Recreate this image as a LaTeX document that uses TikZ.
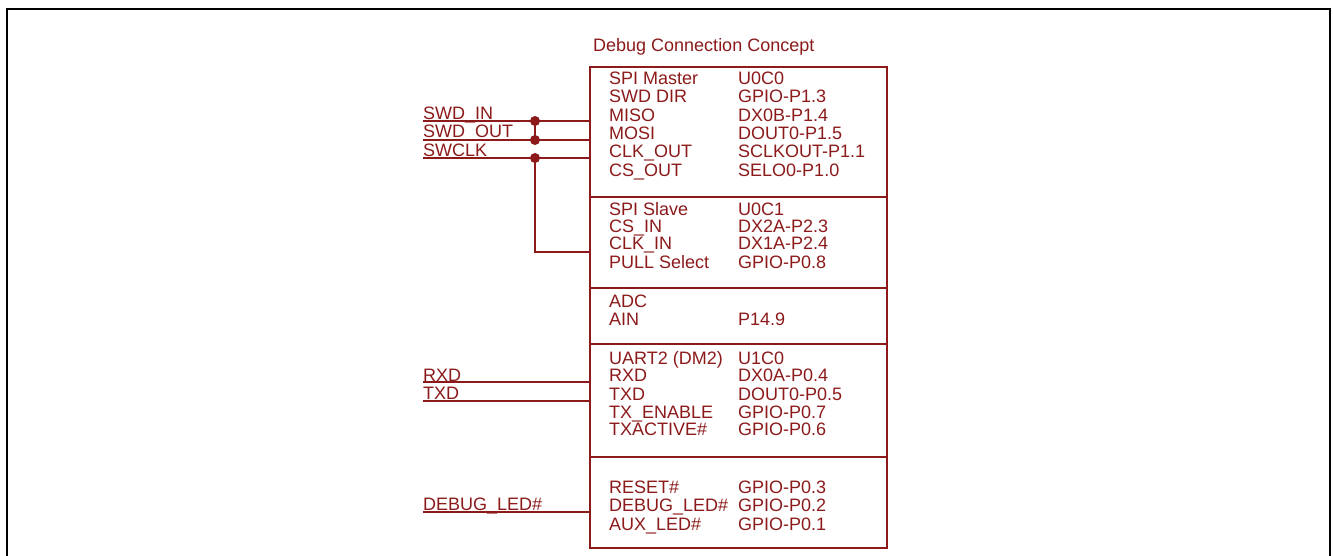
\documentclass[tikz,border=0pt]{standalone}
\usepackage{fontspec}
\setmainfont{Liberation Sans}
\usetikzlibrary{positioning}

\definecolor{schred}{RGB}{140,26,26}

\begin{document}
\begin{tikzpicture}[x=1pt, y=-1pt,
  every node/.style={font=\fontsize{18}{21}\selectfont, text=schred, inner sep=0pt},
  txt/.style={anchor=base west},
  wire/.style={draw=schred, line width=2pt},
  section/.style={draw=schred, line width=2pt, outer sep=0pt, minimum width=297pt},
  junction/.style={circle, fill=schred, minimum size=10pt, inner sep=0pt}]

  \useasboundingbox (0,0) rectangle (1333,556);

  %% Page frame
  \draw[line width=1.5pt] (7,556) -- (7,9) -- (1330,9) -- (1330,556);

  %% Title
  \node[txt] (title) at (593,52) {Debug Connection Concept};

  %% Stacked sections of the block
  \node[section, minimum height=130pt, anchor=north west] (sec1) at (590,67) {};
  \node[section, minimum height=91pt, below=0pt of sec1] (sec2) {};
  \node[section, minimum height=56pt, below=0pt of sec2] (sec3) {};
  \node[section, minimum height=113pt, below=0pt of sec3] (sec4) {};
  \node[section, minimum height=91pt, below=0pt of sec4] (sec5) {};

  % SPI master
  \node[txt] (ma1) at (609,85) {SPI Master};   \node[txt] (mb1) at (738,85) {U0C0};
  \node[txt] (ma2) at (609,103) {SWD DIR};     \node[txt] (mb2) at (738,103) {GPIO-P1.3};
  \node[txt] (ma3) at (609,122) {MISO};        \node[txt] (mb3) at (738,122) {DX0B-P1.4};
  \node[txt] (ma4) at (609,140) {MOSI};        \node[txt] (mb4) at (738,140) {DOUT0-P1.5};
  \node[txt] (ma5) at (609,158) {CLK\_OUT};    \node[txt] (mb5) at (738,158) {SCLKOUT-P1.1};
  \node[txt] (ma6) at (609,177) {CS\_OUT};     \node[txt] (mb6) at (738,177) {SELO0-P1.0};

  % SPI slave
  \node[txt] (sa1) at (609,215) {SPI Slave};   \node[txt] (sb1) at (738,215) {U0C1};
  \node[txt] (sa2) at (609,233) {CS\_IN};      \node[txt] (sb2) at (738,233) {DX2A-P2.3};
  \node[txt] (sa3) at (609,250) {CLK\_IN};     \node[txt] (sb3) at (738,250) {DX1A-P2.4};
  \node[txt] (sa4) at (609,269) {PULL Select}; \node[txt] (sb4) at (738,269) {GPIO-P0.8};

  % ADC
  \node[txt] (da1) at (609,307) {ADC};
  \node[txt] (da2) at (609,325) {AIN};         \node[txt] (db2) at (738,325) {P14.9};

  % UART
  \node[txt] (ua1) at (609,364) {UART2 (DM2)}; \node[txt] (ub1) at (738,364) {U1C0};
  \node[txt] (ua2) at (609,381) {RXD};         \node[txt] (ub2) at (738,381) {DX0A-P0.4};
  \node[txt] (ua3) at (609,400) {TXD};         \node[txt] (ub3) at (738,400) {DOUT0-P0.5};
  \node[txt] (ua4) at (609,418) {TX\_ENABLE};  \node[txt] (ub4) at (738,418) {GPIO-P0.7};
  \node[txt] (ua5) at (609,435) {TXACTIVE\#};  \node[txt] (ub5) at (738,435) {GPIO-P0.6};

  % GPIO
  \node[txt] (ga1) at (609,493) {RESET\#};     \node[txt] (gb1) at (738,493) {GPIO-P0.3};
  \node[txt] (ga2) at (609,511) {DEBUG\_LED\#};\node[txt] (gb2) at (738,511) {GPIO-P0.2};
  \node[txt] (ga3) at (609,530) {AUX\_LED\#};  \node[txt] (gb3) at (738,530) {GPIO-P0.1};

  %% Net labels on the left
  \node[txt] (nswdin) at (423,120) {SWD\_IN};
  \node[txt] (nswdout) at (423,138) {SWD\_OUT};
  \node[txt] (nswclk) at (423,157) {SWCLK};
  \node[txt] (nrxd) at (423,381) {RXD};
  \node[txt] (ntxd) at (423,399) {TXD};
  \node[txt] (nled) at (423,510) {DEBUG\_LED\#};

  \coordinate (swdin) at (423,121);
  \coordinate (swdout) at (423,140);
  \coordinate (swclk) at (423,158);
  \coordinate (rxd) at (423,382);
  \coordinate (txd) at (423,401);
  \coordinate (led) at (423,512);
  \coordinate (clkin) at (590,252);

  % Junctions
  \node[junction] (j1) at (535,121) {};
  \node[junction] (j2) at (535,140) {};
  \node[junction] (j3) at (535,158) {};

  %% Wires
  \draw[wire] (swdin) -- (swdin -| sec1.west);
  \draw[wire] (swdout) -- (swdout -| sec1.west);
  \draw[wire] (swclk) -- (swclk -| sec1.west);
  \draw[wire] (j1.center) -- (j2.center);
  \draw[wire] (j3.center) |- (clkin);
  \draw[wire] (rxd) -- (rxd -| sec4.west);
  \draw[wire] (txd) -- (txd -| sec4.west);
  \draw[wire] (led) -- (led -| sec5.west);
\end{tikzpicture}
\end{document}
